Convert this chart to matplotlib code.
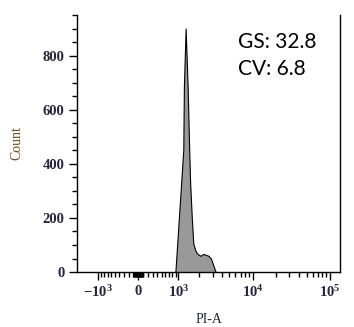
"""PI-A histogram, FlowJo style, biexponential (asinh) x axis"""

import numpy as np
import matplotlib.pyplot as plt

# histogram outline
pi_a = [894, 1001, 1096, 1185, 1210, 1283, 1371, 1444, 1489, 1568, 1648,
        1760, 1855, 2059, 2278, 2480, 2659, 2861, 3190, 3305]
count = [0, 176, 322, 452, 686, 900, 686, 452, 330, 205, 106,
         80, 69, 60, 67, 63, 60, 50, 12, 0]

x_ticks = [-1000, 0, 1000, 10000, 100000]
x_labels = ['$\\mathregular{-10^3}$', '0', '$\\mathregular{10^3}$',
            '$\\mathregular{10^4}$', '$\\mathregular{10^5}$']
y_ticks = [0, 200, 400, 600, 800]
stats = ['GS: 32.8', 'CV: 6.8']

plt.rcParams['font.family'] = 'Liberation Serif'
plt.rcParams['font.weight'] = 'bold'
plt.rcParams['mathtext.fontset'] = 'custom'
plt.rcParams['mathtext.rm'] = 'Liberation Serif:bold'

fig = plt.figure(figsize=(3.54, 3.27), dpi=100)
ax = fig.add_axes([0.2175, 0.168, 0.743, 0.786])
ax.set_xscale('asinh', linear_width=670)

ax.fill_between(pi_a, count, color='#999999', ec='black', lw=0.8)

ax.set_xlim(-2030, 135000)
ax.set_ylim(0, 950)

minor_x = (list(range(-900, 0, 100)) + list(range(-90, 100, 10)) +
           list(range(100, 1000, 100)) + list(range(2000, 10000, 1000)) +
           list(range(20000, 100000, 10000)))
ax.set_xticks(x_ticks, x_labels)
ax.set_xticks(minor_x, minor=True)
ax.set_yticks(y_ticks)
ax.set_yticks(np.arange(0, 951, 50), minor=True)

lab_c = '#25253f'
ax.tick_params(which='major', length=6, width=1, pad=3, labelsize=10.5,
               labelcolor=lab_c)
ax.tick_params(which='minor', length=3.5, width=1)
ax.tick_params(axis='y', which='both', right=False)

ax.spines['top'].set_visible(False)
for s in ['left', 'bottom', 'right']:
    ax.spines[s].set_linewidth(1)

ax.set_ylabel('Count', fontsize=10, color='#6e4a1e', labelpad=14)
ax.set_xlabel('PI-A', fontsize=10, color=lab_c, labelpad=9)

ax.text(0.612, 0.870, stats[0], transform=ax.transAxes, fontsize=15,
        family='Lato', weight='normal', color='black')
ax.text(0.612, 0.7665, stats[1], transform=ax.transAxes, fontsize=15,
        family='Lato', weight='normal', color='black')

fig.savefig('out.png', dpi=100)
